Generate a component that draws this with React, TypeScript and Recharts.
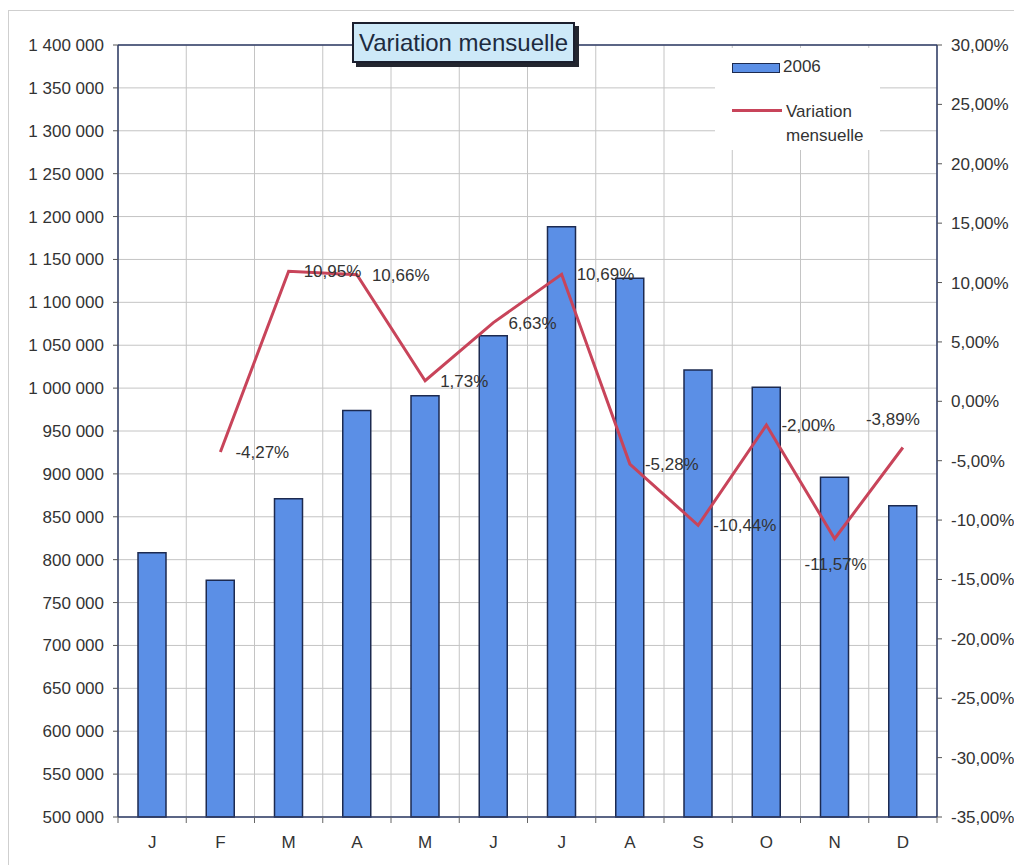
import React from "react";
import {
  ComposedChart,
  Bar,
  Line,
  XAxis,
  YAxis,
  CartesianGrid,
  Legend,
  LabelList,
  ReferenceLine,
} from "recharts";

const months = ["J", "F", "M", "A", "M", "J", "J", "A", "S", "O", "N", "D"];
const sales2006 = [808000, 776000, 871000, 974000, 991000, 1061000, 1188000, 1128000, 1021000, 1001000, 896000, 863000];
const variation = [null, -4.27, 10.95, 10.66, 1.73, 6.63, 10.69, -5.28, -10.44, -2.0, -11.57, -3.89];

const leftTicks = [
  500000, 550000, 600000, 650000, 700000, 750000, 800000, 850000, 900000, 950000,
  1000000, 1050000, 1100000, 1150000, 1200000, 1250000, 1300000, 1350000, 1400000,
];
const rightTicks = [-35, -30, -25, -20, -15, -10, -5, 0, 5, 10, 15, 20, 25, 30];

// where each variation label sits relative to its point
const labelSide = ["right", "right", "right", "right", "right", "right", "right", "right", "right", "right", "below", "above"];

const data = months.map((m, i) => ({ month: m, sales: sales2006[i], variation: variation[i] }));

const FONT = "'Liberation Sans', Arial, sans-serif";
const NAVY = "#2e3b66";
const BAR = "#5b8fe6";
const RED = "#c8445a";

const CHART_W = 1010;
const LEFT_W = 109;
const RIGHT_W = 82;
const BAND = (CHART_W - LEFT_W - RIGHT_W) / months.length;

const fmtThousands = (v: number) => String(v).replace(/\B(?=(\d{3})+(?!\d))/g, " ");
const fmtPct = (v: number) => v.toFixed(2).replace(".", ",") + "%";

// category label plus the small Excel-style tick marks on the band edges
const MonthTick = (props: any) => {
  const { x, y, payload, index } = props;
  const axisY = y - 19;
  return (
    <g>
      <line x1={x - BAND / 2} x2={x - BAND / 2} y1={axisY} y2={axisY + 6} stroke="#666" />
      {index === months.length - 1 && (
        <line x1={x + BAND / 2} x2={x + BAND / 2} y1={axisY} y2={axisY + 6} stroke="#666" />
      )}
      <text x={x} y={y} dy="0.71em" textAnchor="middle" fontSize={17} fontFamily={FONT} fill="#333">
        {payload.value}
      </text>
    </g>
  );
};

const VarLabel = (props: any) => {
  const { x, y, value } = props;
  if (value == null) return null;
  const idx = props.index != null ? props.index : variation.indexOf(value);
  const side = labelSide[idx];
  let tx = x + 15;
  let ty = y;
  let anchor: "start" | "middle" = "start";
  if (side === "below") {
    tx = x + 1;
    ty = y + 25;
    anchor = "middle";
  } else if (side === "above") {
    tx = x - 10;
    ty = y - 28;
    anchor = "middle";
  }
  return (
    <text x={tx} y={ty} dy="0.35em" textAnchor={anchor} fontSize={17} fontFamily={FONT} fill="#333">
      {fmtPct(value)}
    </text>
  );
};

const LegendBox = () => (
  <div style={{ background: "#fff", width: 165, height: 102, fontFamily: FONT, fontSize: 17, color: "#333", position: "relative" }}>
    <div style={{ position: "absolute", left: 17, top: 15, width: 46, height: 8, background: BAR, border: "1.5px solid #1c2a50" }} />
    <div style={{ position: "absolute", left: 68, top: 9 }}>2006</div>
    <div style={{ position: "absolute", left: 17, top: 61, width: 50, height: 3, background: RED }} />
    <div style={{ position: "absolute", left: 71, top: 52, lineHeight: "24px" }}>
      Variation
      <br />
      mensuelle
    </div>
  </div>
);

export default function App() {
  return (
    <div style={{ position: "relative", top: 2, width: 1012, height: 860, border: "1px solid #cfcfcf", fontFamily: FONT }}>
      <ComposedChart width={CHART_W} height={858} data={data} margin={{ top: 34, right: 0, bottom: 22, left: 0 }}>
        <CartesianGrid
          yAxisId="left"
          stroke="#c4c4c4"
          strokeWidth={1}
          verticalCoordinatesGenerator={({ offset }: any) =>
            Array.from({ length: months.length + 1 }, (_, i) => offset.left + (i * offset.width) / months.length)
          }
        />
        <XAxis
          dataKey="month"
          height={30}
          tickLine={false}
          axisLine={{ stroke: NAVY, strokeWidth: 1.5 }}
          tickSize={5}
          tickMargin={14}
          interval={0}
          tick={<MonthTick />}
        />
        <YAxis
          yAxisId="left"
          width={LEFT_W}
          domain={[500000, 1400000]}
          ticks={leftTicks}
          interval={0}
          tickFormatter={fmtThousands}
          tickSize={5}
          tickMargin={9}
          axisLine={{ stroke: NAVY, strokeWidth: 1.5 }}
          tickLine={{ stroke: "#555" }}
          tick={{ fill: "#333", fontSize: 17, fontFamily: FONT }}
        />
        <YAxis
          yAxisId="right"
          orientation="right"
          width={RIGHT_W}
          domain={[-35, 30]}
          ticks={rightTicks}
          interval={0}
          tickFormatter={fmtPct}
          tickSize={5}
          tickMargin={9}
          axisLine={{ stroke: NAVY, strokeWidth: 1.5 }}
          tickLine={{ stroke: "#555" }}
          tick={{ fill: "#333", fontSize: 17, fontFamily: FONT }}
        />
        <ReferenceLine yAxisId="left" y={1400000} stroke={NAVY} strokeWidth={1.5} />
        <Legend
          layout="horizontal"
          verticalAlign="middle"
          align="center"
          content={() => <LegendBox />}
          wrapperStyle={{ left: 706, top: 37, width: 165, height: 102 }}
        />
        <Bar
          yAxisId="left"
          dataKey="sales"
          name="2006"
          barSize={28}
          fill={BAR}
          stroke="#1c2a50"
          strokeWidth={1.5}
          isAnimationActive={false}
        />
        <Line
          yAxisId="right"
          dataKey="variation"
          name="Variation mensuelle"
          stroke={RED}
          strokeWidth={3}
          dot={false}
          activeDot={false}
          connectNulls={false}
          isAnimationActive={false}
        >
          <LabelList dataKey="variation" content={VarLabel} />
        </Line>
      </ComposedChart>
      <div
        style={{
          position: "absolute",
          left: 343,
          top: 11,
          width: 219,
          height: 37,
          background: "#cde9f8",
          border: "2px solid #1b1f2e",
          boxShadow: "4px 4px 0 #23262f",
          fontSize: 24,
          color: "#1d2b3f",
          display: "flex",
          alignItems: "center",
          justifyContent: "center",
          whiteSpace: "nowrap",
        }}
      >
        Variation mensuelle
      </div>
    </div>
  );
}
